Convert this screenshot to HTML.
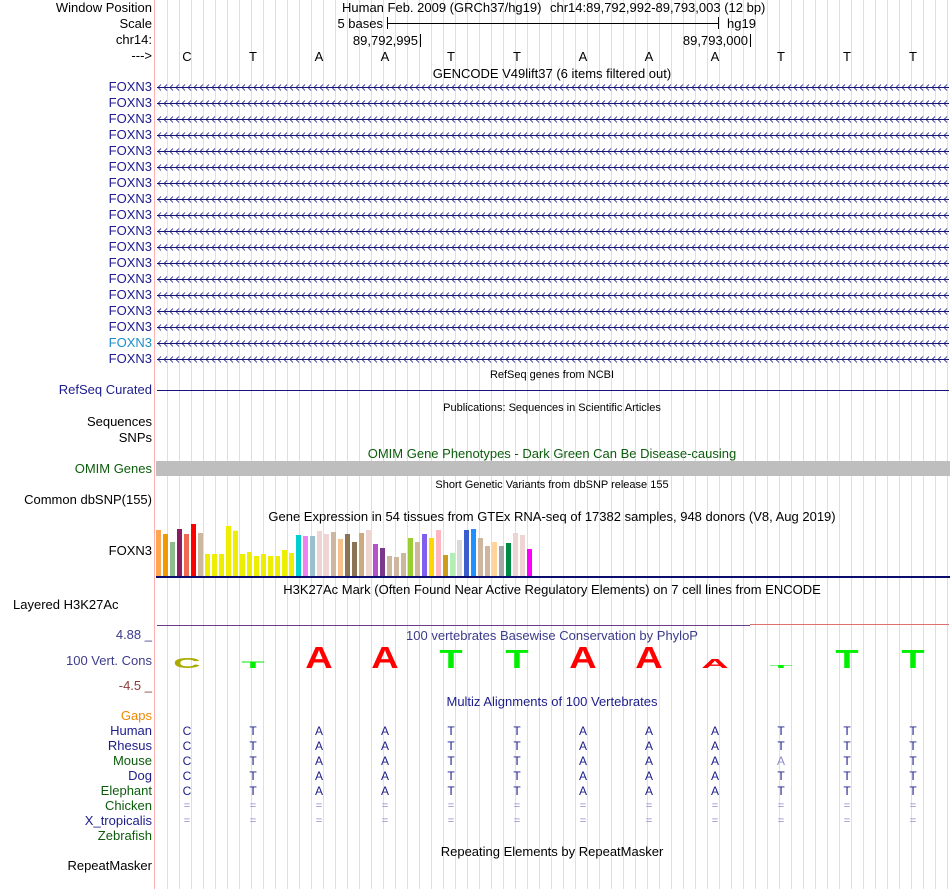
<!DOCTYPE html>
<html><head><meta charset="utf-8">
<style>
html,body{margin:0;padding:0;background:#fff;}
svg{display:block;font-family:"Liberation Sans",sans-serif;}
</style></head>
<body>
<svg id="s" width="950" height="889" viewBox="0 0 950 889" xmlns="http://www.w3.org/2000/svg">
<g id="grid"></g>
<line x1="154.5" y1="0" x2="154.5" y2="889" stroke="#ffb0b0"/>
<g id="labels" font-size="13" text-anchor="end"></g>
<g id="data" font-size="13"></g>
</svg>
<script>
const NS="http://www.w3.org/2000/svg";
const svg=document.getElementById('s');
const G=document.getElementById('grid'),L=document.getElementById('labels'),D=document.getElementById('data');
function mk(tag,attrs,parent,txt){const e=document.createElementNS(NS,tag);for(const k in attrs)e.setAttribute(k,attrs[k]);if(txt!==undefined)e.textContent=txt;parent.appendChild(e);return e;}

// data arrays
const bases=["C","T","A","A","T","T","A","A","A","T","T","T"];
const consScores=[2.0,1.3,4.2,4.2,3.6,3.6,4.2,4.2,1.8,0.6,3.6,3.6];
const gtexValues=[45,57,81,42,57,27,54,117,117,117,33,47,117,111,123,117,123,123,105,114,60,63,63,48,57,51,72,57,81,54,45,87,99,123,126,114,69,81,57,69,45,120,114,75,45,42,69,93,81,93,84,54,60,102].map(v=>(183-v)/3);
const gtexColors=["#FFA54F","#EE9A00","#8FBC8F","#8B1C62","#EE6A50","#FF0000","#CDB79E","#EEEE00","#EEEE00","#EEEE00","#EEEE00","#EEEE00","#EEEE00","#EEEE00","#EEEE00","#EEEE00","#EEEE00","#EEEE00","#EEEE00","#EEEE00","#00CED1","#EE82EE","#9AC0CD","#EED5D2","#EED5D2","#CDB79E","#F4C28A","#8B7355","#8B7355","#CDAA7D","#EED5D2","#B452CD","#7A378B","#CDB79E","#CDB79E","#CDB79E","#9ACD32","#CDB79E","#7F5FEE","#FFD700","#FFB6C1","#CD9B1D","#B4EEB4","#D9D9D9","#3A5FCD","#1E90FF","#CDB79E","#CDB79E","#FFD39B","#A6A6A6","#008B45","#EED5D2","#EED5D2","#FF00FF"];
const species=["Human","Rhesus","Mouse","Dog","Elephant"];
const speciesBases=[bases,bases,["C","T","A","A","T","T","A","A","A","A","T","T"],bases,bases];

const x0=154,baseW=66;
function bx(i){return x0+33+baseW*i;}

// grid
for(let x=167;x<950;x+=12){
  const l=mk('line',{x1:x+0.5,y1:0,x2:x+0.5,y2:889,stroke:'#dcdcf4'},G);
  
  
}

function lab(y,t,c){const e=mk('text',{x:152,y:y,fill:c||'#000'},L,t);return e;}
function title(y,t,c,fs){const e=mk('text',{x:552,y:y,'text-anchor':'middle',fill:c||'#000','font-size':fs||13},D,t);return e;}

lab(12,"Window Position");lab(28,"Scale");lab(44,"chr14:");lab(60,"--->");
mk('text',{x:342,y:12},D,"Human Feb. 2009 (GRCh37/hg19)");
mk('text',{x:550,y:12},D,"chr14:89,792,992-89,793,003 (12 bp)");
mk('text',{x:383,y:28,'text-anchor':'end'},D,"5 bases");
mk('line',{x1:387.5,y1:17,x2:387.5,y2:29,stroke:'#000'},D);
mk('line',{x1:387,y1:23.5,x2:718,y2:23.5,stroke:'#000'},D);
mk('line',{x1:718.5,y1:17,x2:718.5,y2:29,stroke:'#000'},D);
mk('text',{x:727,y:28},D,"hg19");
mk('text',{x:418,y:45,'text-anchor':'end'},D,"89,792,995");
mk('line',{x1:420.5,y1:34,x2:420.5,y2:47,stroke:'#000'},D);
mk('text',{x:748,y:45,'text-anchor':'end'},D,"89,793,000");
mk('line',{x1:750.5,y1:34,x2:750.5,y2:47,stroke:'#000'},D);
bases.forEach((b,i)=>{const t=mk('text',{x:bx(i),y:61,'text-anchor':'middle'},D,b);});

title(78,"GENCODE V49lift37 (6 items filtered out)");
for(let r=0;r<18;r++){
  const y=87+16*r;
  lab(y+4,"FOXN3",r==16?'#1c8dc6':'#1c1c8c');
  const g=mk('g',{stroke:'#14147c',fill:'none'},D);
  
  
  mk('line',{x1:157,y1:y+0.5,x2:949,y2:y+0.5},g);
  let d='';for(let x=158;x<948;x+=6)d+=`M${x+3},${y-2.5}L${x},${y+0.5}L${x+3},${y+3.5}`;
  mk('path',{d:d,'stroke-width':0.8},g);
}
title(378,"RefSeq genes from NCBI","#000",11);
lab(394,"RefSeq Curated","#1c1c8c");
mk('line',{x1:157,y1:390.5,x2:949,y2:390.5,stroke:'#14147c'},D);
title(411,"Publications: Sequences in Scientific Articles","#000",11);
lab(426,"Sequences");lab(442,"SNPs");
title(458,"OMIM Gene Phenotypes - Dark Green Can Be Disease-causing","#0c5c0c");
lab(473,"OMIM Genes","#0c5c0c");
mk('rect',{x:156,y:461,width:794,height:15,fill:'#bebebe'},D);
title(488,"Short Genetic Variants from dbSNP release 155","#000",11);
lab(504,"Common dbSNP(155)");
title(521,"Gene Expression in 54 tissues from GTEx RNA-seq of 17382 samples, 948 donors (V8, Aug 2019)");
lab(555,"FOXN3");
const base=576,scaleG=1;
gtexValues.forEach((v,i)=>{const r=mk('rect',{x:156+7*i,y:base-v*scaleG,width:5,height:v*scaleG,fill:gtexColors[i]},D);});
mk('rect',{x:156,y:576,width:794,height:2,fill:'#0c0c6c'},D);
title(594,"H3K27Ac Mark (Often Found Near Active Regulatory Elements) on 7 cell lines from ENCODE");
mk('text',{x:13,y:609},D,"Layered H3K27Ac");
mk('line',{x1:157,y1:625.5,x2:750,y2:625.5,stroke:'#6c3c8c'},D);
mk('line',{x1:750,y1:624.5,x2:949,y2:624.5,stroke:'#e07070'},D);
lab(639,"4.88 _","#3c3c8c");lab(665,"100 Vert. Cons","#3c3c8c");lab(690,"-4.5 _","#8c3c3c");
title(640,"100 vertebrates Basewise Conservation by PhyloP","#3c3c8c");
const colMap={A:'#ff0000',T:'#00ee00',C:'#aaaa00',G:'#ffa500'};
const baseline=668,pxPerUnit=5.2;
consScores.forEach((s,i)=>{
  const h=s*pxPerUnit,sy=h/14.3;
  const t=mk('text',{'font-size':20,'font-weight':'bold','text-anchor':'middle',fill:colMap[bases[i]],transform:`translate(${bx(i)},${baseline}) scale(1.9,${sy})`,x:0,y:0},D,bases[i]);
  
  
});
title(706,"Multiz Alignments of 100 Vertebrates","#1c1c8c");
lab(720,"Gaps","#ee8800");
const spCol=["#1c1c8c","#1c1c8c","#0c5c0c","#1c1c8c","#0c5c0c"];
species.forEach((sp,j)=>{
  const y=735+15*j;
  lab(y,sp,spCol[j]);
  speciesBases[j].forEach((b,i)=>{const diff=b!==bases[i];const t=mk('text',{x:bx(i),y:y,'text-anchor':'middle','font-size':12,fill:diff?'#8c8cc8':'#1c1c8c'},D,b);});
});
lab(810,"Chicken","#0c5c0c");lab(825,"X_tropicalis","#1c1c8c");lab(840,"Zebrafish","#0c5c0c");
[808,823].forEach(y=>bases.forEach((b,i)=>{const t=mk('text',{x:bx(i),y:y+1,'text-anchor':'middle',fill:'#8c8cc8','font-size':11},D,"=");}));
title(856,"Repeating Elements by RepeatMasker");
lab(870,"RepeatMasker");
</script>
</body></html>
